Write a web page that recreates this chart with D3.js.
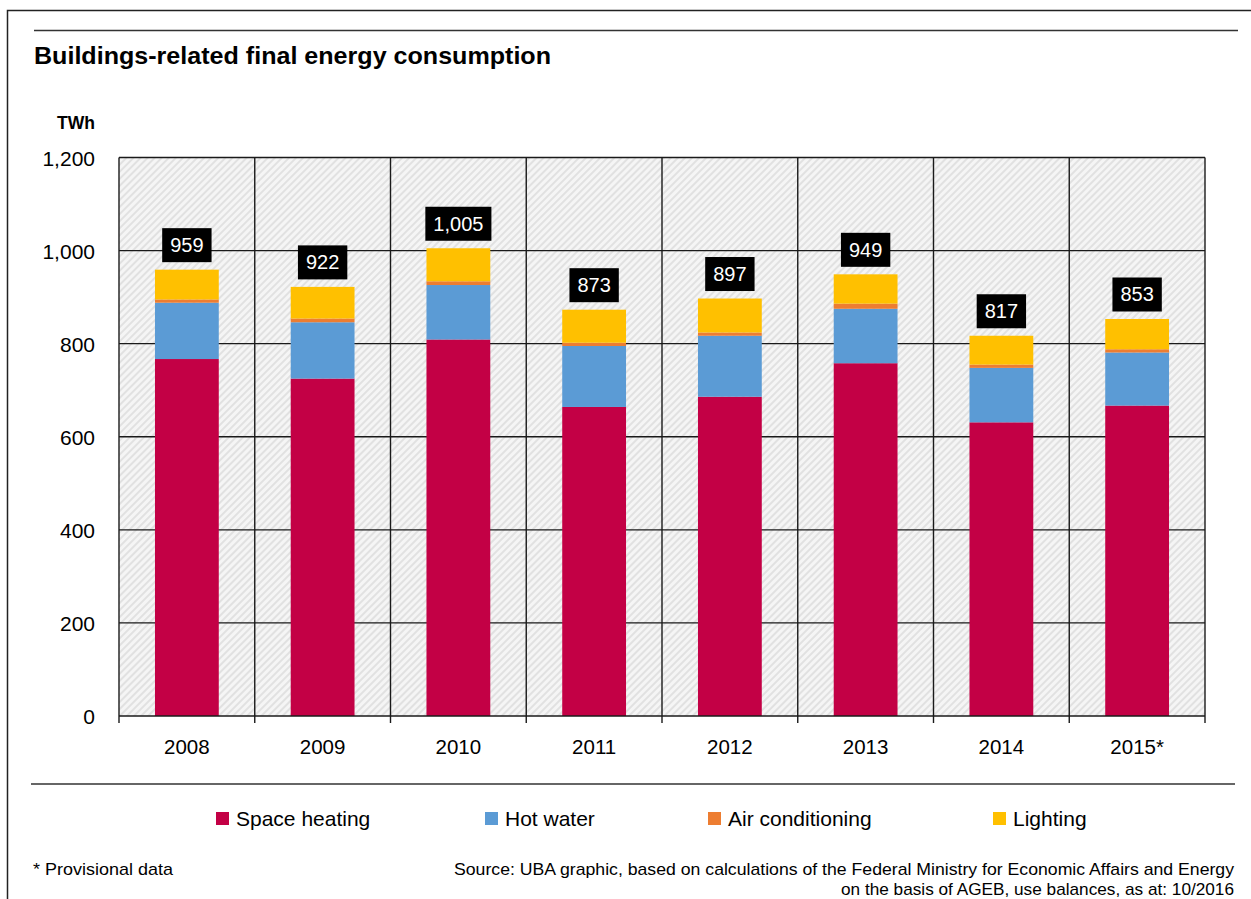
<!DOCTYPE html>
<html>
<head>
<meta charset="utf-8">
<script src="https://cdn.jsdelivr.net/npm/d3@7"></script>
<style>
  html, body { margin: 0; padding: 0; background: #fff; }
  svg { display: block; }
  text { font-family: "Liberation Sans", Arial, sans-serif; fill: #000; }
</style>
</head>
<body>
<svg id="chart" width="1251" height="899"></svg>
<script>
// values in TWh
const years = ['2008', '2009', '2010', '2011', '2012', '2013', '2014', '2015*'];
const spaceHeating = [767, 725, 809, 664, 686, 758, 631, 667];
const hotWater = [121, 121, 117, 131, 131, 117, 117, 114];
const airConditioning = [7, 8, 8, 7, 7, 11, 7, 7];
const lighting = [64, 68, 71, 71, 73, 63, 62, 65];
const seriesNames = ['Space heating', 'Hot water', 'Air conditioning', 'Lighting'];
const yTicks = [0, 200, 400, 600, 800, 1000, 1200];

const colors = {
    'Space heating': '#c30045',
    'Hot water': '#5b9bd5',
    'Air conditioning': '#ed7d31',
    'Lighting': '#ffc000'
};

const svg = d3.select('#chart');
const plot = { left: 119, right: 1205, top: 157.5, bottom: 716 };

const rows = years.map((y, i) => ({
    year: y,
    'Space heating': spaceHeating[i],
    'Hot water': hotWater[i],
    'Air conditioning': airConditioning[i],
    'Lighting': lighting[i]
}));

const x = d3.scaleBand()
    .domain(years)
    .range([plot.left, plot.right])
    .paddingInner(0.53)
    .paddingOuter(0.265);
const step = x.step();
const yScale = d3.scaleLinear().domain([0, 1200]).range([plot.bottom, plot.top]);

// outer frame (cut at the right and bottom)
svg.append('path')
    .attr('d', 'M7.5,899 V10.5 H1251')
    .attr('fill', 'none').attr('stroke', '#222').attr('stroke-width', 1.5);

// rules
svg.append('line').attr('x1', 34).attr('x2', 1238).attr('y1', 30.5).attr('y2', 30.5)
    .attr('stroke', '#333').attr('stroke-width', 1.5);
svg.append('line').attr('x1', 31).attr('x2', 1235).attr('y1', 784).attr('y2', 784)
    .attr('stroke', '#333').attr('stroke-width', 1.5);

svg.append('text')
    .attr('x', 34).attr('y', 64)
    .attr('font-size', 24).attr('font-weight', 'bold')
    .attr('textLength', 517).attr('lengthAdjust', 'spacingAndGlyphs')
    .text('Buildings-related final energy consumption');

svg.append('text')
    .attr('x', 95).attr('y', 129)
    .attr('text-anchor', 'end')
    .attr('font-size', 19).attr('font-weight', 'bold')
    .attr('textLength', 38).attr('lengthAdjust', 'spacingAndGlyphs')
    .text('TWh');

// hatched background
const defs = svg.append('defs');
const pat = defs.append('pattern')
    .attr('id', 'hatch')
    .attr('patternUnits', 'userSpaceOnUse')
    .attr('width', 5).attr('height', 5)
    .attr('patternTransform', 'rotate(45)');
pat.append('rect').attr('width', 5).attr('height', 5).attr('fill', '#f5f5f5');
pat.append('rect').attr('width', 2).attr('height', 5).attr('fill', '#e1e1e1');

svg.append('rect')
    .attr('x', plot.left).attr('y', plot.top)
    .attr('width', plot.right - plot.left).attr('height', plot.bottom - plot.top)
    .attr('fill', 'url(#hatch)');

// grid
const grid = svg.append('g').attr('stroke', '#1a1a1a').attr('stroke-width', 1.4);
grid.selectAll('.hgrid')
    .data(yTicks.filter(d => d > 0))
    .enter().append('line')
    .attr('x1', plot.left).attr('x2', plot.right)
    .attr('y1', d => yScale(d)).attr('y2', d => yScale(d));
const bounds = years.map(y => x(y) - step * 0.265).concat([plot.right]);
grid.selectAll('.vgrid')
    .data(bounds)
    .enter().append('line')
    .attr('x1', d => d).attr('x2', d => d)
    .attr('y1', plot.top).attr('y2', plot.bottom);

// stacked bars
const stack = d3.stack().keys(seriesNames);
const layers = stack(rows);
svg.append('g').selectAll('g')
    .data(layers)
    .enter().append('g')
    .attr('fill', d => colors[d.key])
    .selectAll('rect')
    .data(d => d)
    .enter().append('rect')
    .attr('x', d => x(d.data.year))
    .attr('width', x.bandwidth())
    .attr('y', d => yScale(d[1]))
    .attr('height', d => yScale(d[0]) - yScale(d[1]));

// baseline axis with ticks
svg.append('line')
    .attr('x1', plot.left).attr('x2', plot.right)
    .attr('y1', plot.bottom).attr('y2', plot.bottom)
    .attr('stroke', '#1a1a1a').attr('stroke-width', 1.4);
svg.append('g').selectAll('line')
    .data(bounds)
    .enter().append('line')
    .attr('x1', d => d).attr('x2', d => d)
    .attr('y1', plot.bottom).attr('y2', plot.bottom + 7)
    .attr('stroke', '#1a1a1a').attr('stroke-width', 1.4);

// y tick labels
const fmt = d3.format(',');
svg.append('g').selectAll('text')
    .data(yTicks)
    .enter().append('text')
    .attr('x', 95)
    .attr('y', d => yScale(d) + 8)
    .attr('text-anchor', 'end')
    .attr('font-size', 21)
    .text(d => fmt(d));

// x labels
svg.append('g').selectAll('text')
    .data(years)
    .enter().append('text')
    .attr('x', d => x(d) + x.bandwidth() / 2)
    .attr('y', 754)
    .attr('text-anchor', 'middle')
    .attr('font-size', 20.5)
    .text(d => d);

// total labels: black box sized to the text
const totals = rows.map(r => ({ year: r.year, total: d3.sum(seriesNames, k => r[k]) }));
const lab = svg.append('g').selectAll('g')
    .data(totals)
    .enter().append('g')
    .attr('transform', d => 'translate(' + (x(d.year) + x.bandwidth() / 2) + ',' + (yScale(d.total) - 7.5) + ')');
const box = lab.append('rect')
    .attr('y', -34).attr('height', 34)
    .attr('fill', '#000');
const labText = lab.append('text')
    .attr('y', -10)
    .attr('text-anchor', 'middle')
    .attr('font-family', '"Open Sans", "Noto Sans", sans-serif')
    .attr('font-size', 20)
    .style('fill', '#fff')
    .text(d => fmt(d.total));
labText.each(function(d) { d.w = this.getComputedTextLength(); });
box.attr('x', d => -(d.w + 16) / 2).attr('width', d => d.w + 16);

// legend
const legendX = [216, 485, 708, 993];
const leg = svg.append('g').selectAll('g')
    .data(seriesNames)
    .enter().append('g')
    .attr('transform', (d, i) => 'translate(' + legendX[i] + ',812)');
leg.append('rect').attr('width', 13).attr('height', 13).attr('fill', d => colors[d]);
leg.append('text')
    .attr('x', 20).attr('y', 14)
    .attr('font-size', 21)
    .text(d => d);

// footnotes
svg.append('text')
    .attr('x', 33).attr('y', 875)
    .attr('font-size', 17)
    .attr('textLength', 140).attr('lengthAdjust', 'spacingAndGlyphs')
    .text('* Provisional data');
svg.append('text')
    .attr('x', 1234).attr('y', 875)
    .attr('text-anchor', 'end')
    .attr('font-size', 17)
    .attr('textLength', 780).attr('lengthAdjust', 'spacingAndGlyphs')
    .text('Source: UBA graphic, based on calculations of the Federal Ministry for Economic Affairs and Energy');
svg.append('text')
    .attr('x', 1234).attr('y', 895)
    .attr('text-anchor', 'end')
    .attr('font-size', 17)
    .attr('textLength', 393).attr('lengthAdjust', 'spacingAndGlyphs')
    .text('on the basis of AGEB, use balances, as at: 10/2016');
</script>
</body>
</html>
